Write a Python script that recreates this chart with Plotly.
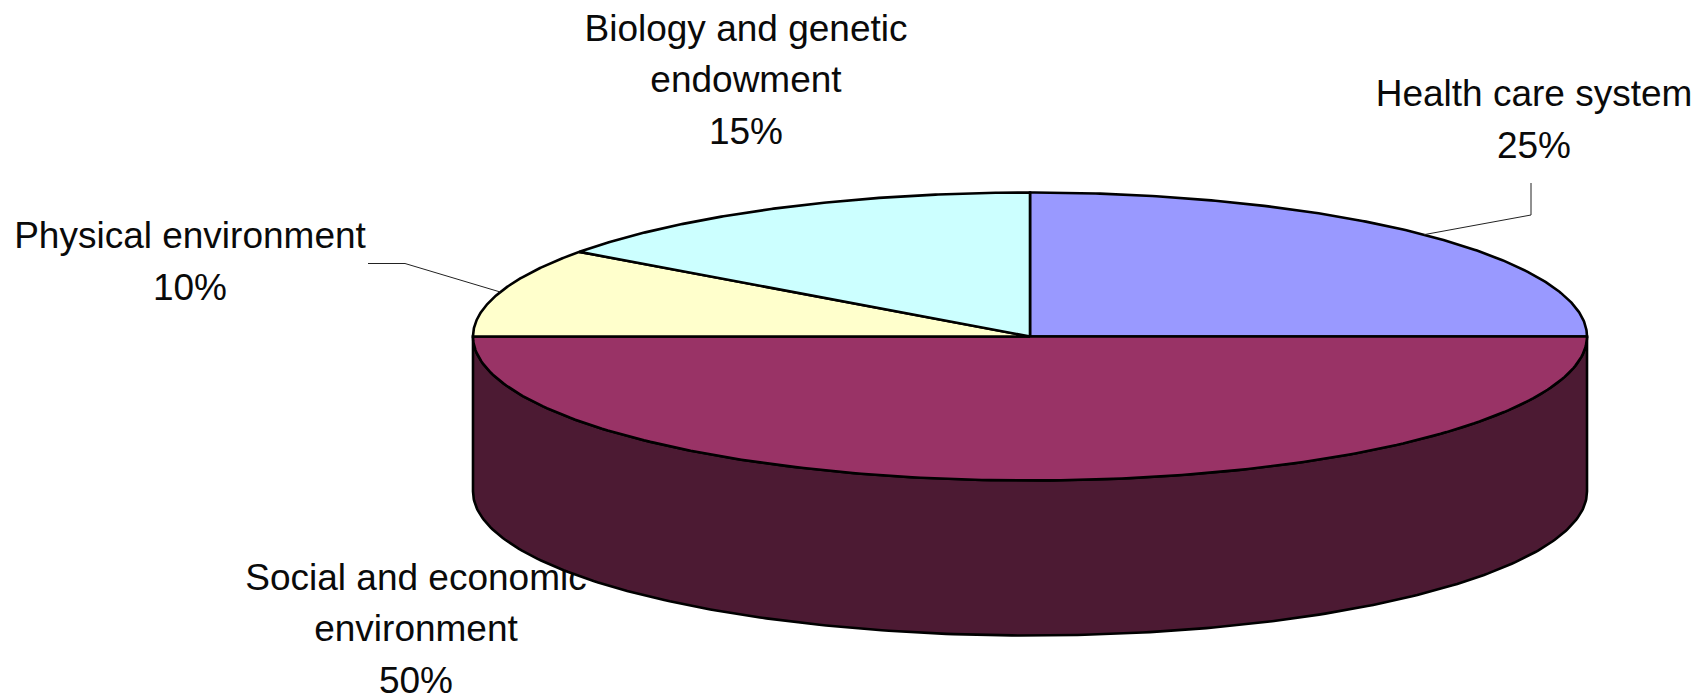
import numpy as np
import plotly.graph_objects as go

categories = ["Health care system", "Social and economic environment", "Physical environment", "Biology and genetic endowment"]
shares = [25, 50, 10, 15]
colors = ["#9999FF", "#993366", "#FFFFCC", "#CCFFFF"]
side_color = "#4C1A33"
label_lines = [["Health care system", "25%"], ["Social and economic", "environment", "50%"],
               ["Physical environment", "10%"], ["Biology and genetic", "endowment", "15%"]]

W, H = 1707, 695
CX, CY, RX, RY, DEPTH = 1030, 336.5, 557, 144, 155
LABEL_POS = [(1534, 123), (416, 632), (190, 265), (746, 83)]
LINE_STEP = 51.7
LEADER_ELBOW = {0: [(1531, 215), (1531, 183)], 2: [(405, 263.5), (368, 263.5)]}
FONT = dict(family="Liberation Sans, Arial, sans-serif", size=37, color="#0A0A0A")
EDGE = dict(color="#000000", width=2.6)


def ell(t, dy=0.0):
    """t is clockwise from 12 o'clock in radians."""
    return CX + RX * np.sin(t), CY - RY * np.cos(t) + dy


fractions = np.array(shares, float) / sum(shares)
edges = np.concatenate([[0], np.cumsum(fractions)]) * 2 * np.pi

fig = go.Figure()

# Labels go first: the pie overlaps the end of "economic" in the reference.
tx, ty, tt = [], [], []
for (lx, ly), lines in zip(LABEL_POS, label_lines):
    for k, s in enumerate(lines):
        tx.append(lx)
        ty.append(ly + (k - (len(lines) - 1) / 2) * LINE_STEP)
        tt.append(s)
fig.add_trace(go.Scatter(
    x=tx, y=ty, mode="text", text=tt, textposition="middle center",
    textfont=FONT, hoverinfo="skip", showlegend=False, cliponaxis=False))

# Front wall of the pie, spanning the part of the 50% slice facing the viewer.
t = np.linspace(np.pi / 2, 3 * np.pi / 2, 240)
x_top, y_top = ell(t)
x_bot, y_bot = ell(t, DEPTH)
fig.add_trace(go.Scatter(
    x=np.concatenate([x_top, x_bot[::-1], x_top[:1]]),
    y=np.concatenate([y_top, y_bot[::-1], y_top[:1]]),
    mode="lines", fill="toself", fillcolor=side_color,
    line=EDGE, hoverinfo="skip", showlegend=False))

# Top face slices.
for i, name in enumerate(categories):
    t = np.linspace(edges[i], edges[i + 1], 200)
    xs, ys = ell(t)
    fig.add_trace(go.Scatter(
        x=np.concatenate([[CX], xs, [CX]]), y=np.concatenate([[CY], ys, [CY]]),
        mode="lines", fill="toself", fillcolor=colors[i], name=name,
        line=EDGE, showlegend=False))

# Leader lines from the mid-angle of the slice out to the label.
for i, elbow in LEADER_ELBOW.items():
    sx, sy = ell((edges[i] + edges[i + 1]) / 2)
    fig.add_trace(go.Scatter(
        x=[sx] + [p[0] for p in elbow], y=[sy] + [p[1] for p in elbow],
        mode="lines", line=dict(color="#222222", width=1),
        hoverinfo="skip", showlegend=False))

fig.update_layout(
    width=W, height=H, margin=dict(l=0, r=0, t=0, b=0),
    paper_bgcolor="#FFFFFF", plot_bgcolor="#FFFFFF",
    xaxis=dict(range=[0, W], visible=False, fixedrange=True),
    yaxis=dict(range=[H, 0], visible=False, fixedrange=True),
)
fig.write_html("out.html", config={"displayModeBar": False},
               post_script="document.body.style.margin='0';")
